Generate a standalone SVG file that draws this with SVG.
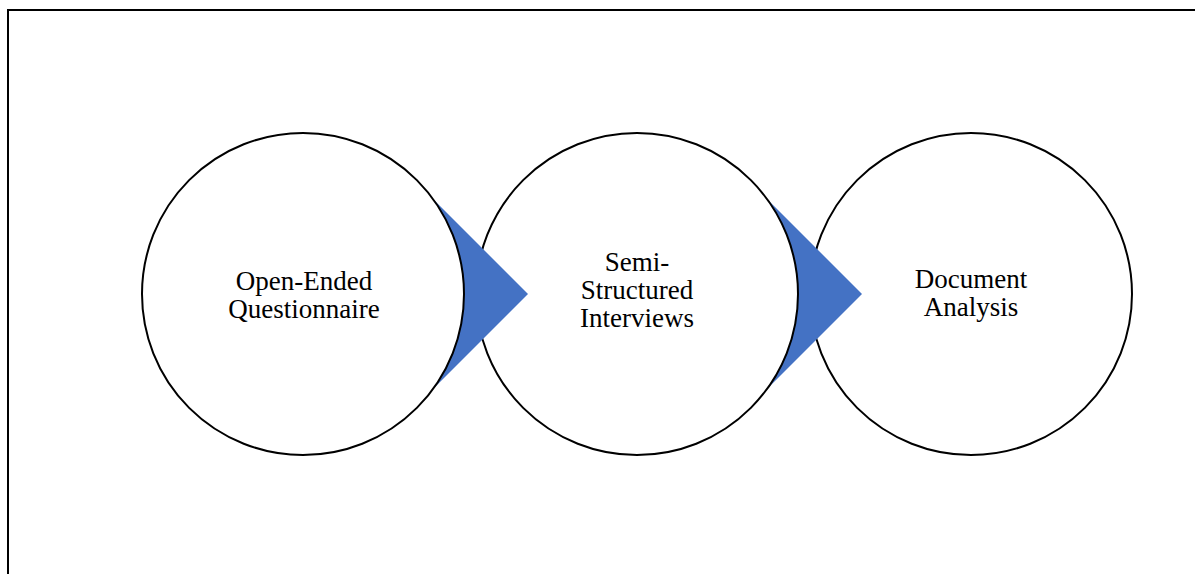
<svg xmlns="http://www.w3.org/2000/svg" width="1195" height="574" viewBox="0 0 1195 574">
  <style>
    .step { fill: #ffffff; stroke: #000000; stroke-width: 2; }
    .arrow { fill: #4472C4; stroke: none; }
    .label { font-family: "Liberation Serif", "Times New Roman", serif; font-size: 27px; fill: #000000; text-anchor: middle; }
  </style>
  <rect width="1195" height="574" fill="#ffffff"/>
  <!-- page frame -->
  <rect x="8" y="10" width="1200" height="600" fill="none" stroke="#000000" stroke-width="2"/>

  <!-- drawn right to left so each circle sits over the chevron that leaves it -->
  <g id="node-document-analysis">
    <circle class="step" cx="971" cy="294" r="161"/>
    <text class="label" x="971" y="288">Document</text>
    <text class="label" x="971" y="316">Analysis</text>
  </g>

  <g id="connectors">
    <polygon id="arrow-2" class="arrow" points="760,192 862,294 760,396"/>
  </g>

  <g id="node-semi-structured">
    <circle class="step" cx="637" cy="294" r="161"/>
    <text class="label" x="637" y="271">Semi-</text>
    <text class="label" x="637" y="299">Structured</text>
    <text class="label" x="637" y="327">Interviews</text>
  </g>

  <g id="connectors-2">
    <polygon id="arrow-1" class="arrow" points="426,192 528,294 426,396"/>
  </g>

  <g id="node-open-ended">
    <circle class="step" cx="303" cy="294" r="161"/>
    <text class="label" x="304" y="290">Open-Ended</text>
    <text class="label" x="304" y="318">Questionnaire</text>
  </g>
</svg>
